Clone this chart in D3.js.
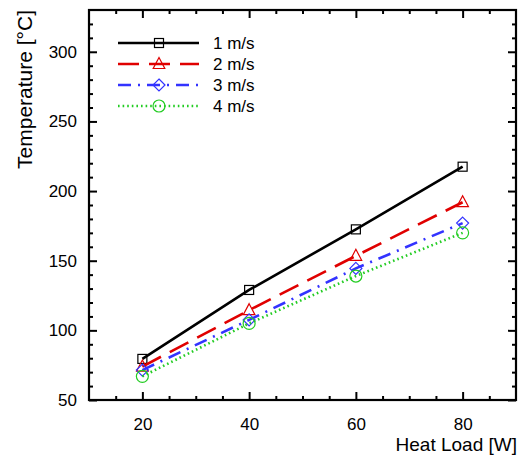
<!DOCTYPE html>
<html>
<head>
<meta charset="utf-8">
<script src="https://cdn.jsdelivr.net/npm/d3@7"></script>
<style>
  body { margin: 0; background: #fff; }
  svg { display: block; font-family: "Liberation Sans", Arial, sans-serif; }
</style>
</head>
<body>
<svg id="chart" width="524" height="458"></svg>
<script>
const heatLoad = [20, 40, 60, 80];
const v1 = [79.5, 129, 172.5, 217.5];
const v2 = [74, 114.5, 153.5, 192];
const v3 = [71.5, 107.5, 144.5, 177];
const v4 = [67, 105, 139, 170];
const seriesNames = ["1 m/s", "2 m/s", "3 m/s", "4 m/s"];
const xTicks = [20, 40, 60, 80];
const yTicks = [50, 100, 150, 200, 250, 300];

const series = [
  { name: seriesNames[0], values: v1, color: "#000000", dash: null, marker: "square" },
  { name: seriesNames[1], values: v2, color: "#e00000", dash: "21,10", marker: "triangle" },
  { name: seriesNames[2], values: v3, color: "#3333ff", dash: "13,7,2,7", marker: "diamond" },
  { name: seriesNames[3], values: v4, color: "#22cc22", dash: "1.6,3", marker: "circle" },
];

const margin = { top: 10, right: 8, bottom: 58, left: 89 };
const width = 524 - margin.left - margin.right;
const height = 458 - margin.top - margin.bottom;

const svg = d3.select("#chart");
const g = svg.append("g").attr("transform", `translate(${margin.left},${margin.top})`);

const x = d3.scaleLinear().domain([10, 90]).range([0, width]);
const y = d3.scaleLinear().domain([50, 330]).range([height, 0]);

// ticks on all sides, pointing inward
const xMinor = d3.range(15, 90, 5).filter((d) => !xTicks.includes(d));
const yMinor = d3.range(60, 330, 10).filter((d) => !yTicks.includes(d));

function tickGroup(axisFn, scale, values, size, transform) {
  const a = g.append("g").attr("transform", transform || null)
    .call(axisFn(scale).tickValues(values).tickSize(size).tickFormat(""));
  a.select(".domain").remove();
  a.selectAll("line").attr("stroke", "#000").attr("stroke-width", 2);
  return a;
}
tickGroup(d3.axisTop, x, xTicks, 8, `translate(0,${height})`);
tickGroup(d3.axisTop, x, xMinor, 4, `translate(0,${height})`);
tickGroup(d3.axisBottom, x, xTicks, 8);
tickGroup(d3.axisBottom, x, xMinor, 4);
tickGroup(d3.axisRight, y, yTicks, 8);
tickGroup(d3.axisRight, y, yMinor, 4);
tickGroup(d3.axisLeft, y, yTicks, 8, `translate(${width},0)`);
tickGroup(d3.axisLeft, y, yMinor, 4, `translate(${width},0)`);

// tick labels
const xLab = g.append("g").attr("transform", `translate(0,${height})`)
  .call(d3.axisBottom(x).tickValues(xTicks).tickSize(0).tickPadding(18));
xLab.select(".domain").remove();
xLab.selectAll("text").attr("font-size", 17).attr("fill", "#000").attr("font-family", "Liberation Sans, Arial, sans-serif");

const yLab = g.append("g")
  .call(d3.axisLeft(y).tickValues(yTicks).tickSize(0).tickPadding(12));
yLab.select(".domain").remove();
yLab.selectAll("text").attr("font-size", 17).attr("fill", "#000").attr("font-family", "Liberation Sans, Arial, sans-serif");

// frame
g.append("rect").attr("width", width).attr("height", height)
  .attr("fill", "none").attr("stroke", "#000").attr("stroke-width", 2.2);

const line = d3.line().x((d, i) => x(heatLoad[i])).y((d) => y(d));

function drawMarker(sel, type, color) {
  if (type === "square") {
    sel.append("rect").attr("x", -4.5).attr("y", -4.5).attr("width", 9).attr("height", 9);
  } else if (type === "triangle") {
    sel.append("path").attr("d", "M0,-6.5L5.8,4.5L-5.8,4.5Z");
  } else if (type === "diamond") {
    sel.append("path").attr("d", "M0,-6L6,0L0,6L-6,0Z");
  } else {
    sel.append("circle").attr("r", 6);
  }
  sel.selectAll("*").attr("fill", "none").attr("stroke", color).attr("stroke-width", 1.2);
}

series.forEach((s) => {
  g.append("path").datum(s.values)
    .attr("d", line)
    .attr("fill", "none")
    .attr("stroke", s.color)
    .attr("stroke-width", 2.6)
    .attr("stroke-dasharray", s.dash);
  s.values.forEach((v, i) => {
    const m = g.append("g").attr("transform", `translate(${x(heatLoad[i])},${y(v)})`);
    drawMarker(m, s.marker, s.color);
  });
});

// legend
const legend = svg.append("g").attr("transform", "translate(118,43)");
series.forEach((s, i) => {
  const row = legend.append("g").attr("transform", `translate(0,${i * 21})`);
  row.append("line").attr("x1", 0).attr("x2", 81).attr("y1", 0).attr("y2", 0)
    .attr("stroke", s.color).attr("stroke-width", 2.6).attr("stroke-dasharray", s.dash);
  const m = row.append("g").attr("transform", "translate(41,0)");
  drawMarker(m, s.marker, s.color);
  row.append("text").attr("x", 95).attr("y", 6).attr("font-size", 17).text(s.name);
});

// axis titles
svg.append("text")
  .attr("transform", "translate(32,10) rotate(-90)")
  .attr("text-anchor", "end")
  .attr("font-size", 21)
  .text("Temperature [°C]");

svg.append("text")
  .attr("x", 517).attr("y", 451)
  .attr("text-anchor", "end")
  .attr("font-size", 19)
  .text("Heat Load [W]");
</script>
</body>
</html>
